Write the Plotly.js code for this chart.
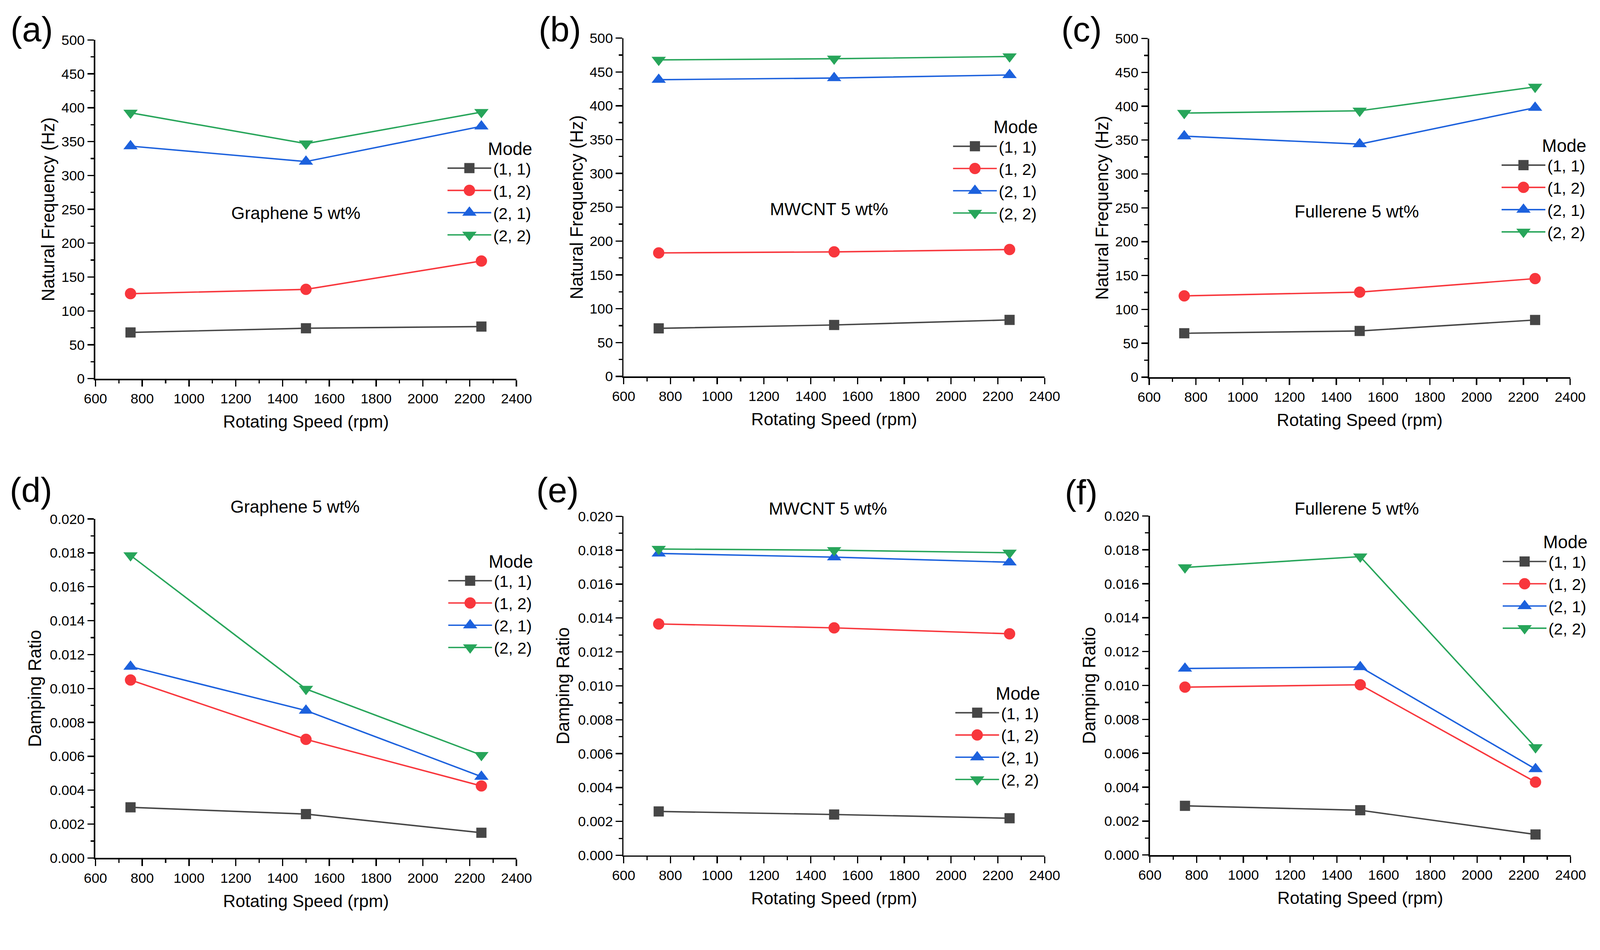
<!DOCTYPE html>
<html><head><meta charset="utf-8">
<script src="https://cdn.plot.ly/plotly-3.0.1.min.js"></script>
<style>html,body{margin:0;padding:0;background:#fff;overflow:hidden}</style>
</head><body><div id="chart"></div>
<script>
const W = 4241, H = 2433;
const speed = [750, 1500, 2250];
const modeNames = ['(1, 1)', '(1, 2)', '(2, 1)', '(2, 2)'];
const materials = ['Graphene 5 wt%', 'MWCNT 5 wt%', 'Fullerene 5 wt%'];
const panelLetters = ['(a)', '(b)', '(c)', '(d)', '(e)', '(f)'];
const xTitle = 'Rotating Speed (rpm)';
const yTitleFreq = 'Natural Frequency (Hz)';
const yTitleDamp = 'Damping Ratio';

// Natural frequency (Hz)
const grapheneFreq11 = [68.2, 74.4, 76.9];
const grapheneFreq12 = [125.5, 131.8, 173.7];
const grapheneFreq21 = [343.3, 320.5, 372.5];
const grapheneFreq22 = [392.5, 347.0, 393.5];
const mwcntFreq11 = [71.0, 76.0, 83.5];
const mwcntFreq12 = [182.5, 184.0, 187.5];
const mwcntFreq21 = [438.5, 441.0, 445.5];
const mwcntFreq22 = [467.8, 469.5, 472.8];
const fullereneFreq11 = [64.8, 68.2, 84.4];
const fullereneFreq12 = [120.0, 125.5, 145.5];
const fullereneFreq21 = [355.8, 344.0, 397.8];
const fullereneFreq22 = [389.9, 393.2, 428.5];

// Damping ratio
const grapheneDamp11 = [0.00299, 0.00259, 0.00149];
const grapheneDamp12 = [0.0105, 0.0070, 0.00425];
const grapheneDamp21 = [0.01129, 0.0087, 0.0048];
const grapheneDamp22 = [0.01785, 0.00997, 0.00607];
const mwcntDamp11 = [0.00259, 0.00241, 0.00219];
const mwcntDamp12 = [0.01365, 0.01342, 0.01307];
const mwcntDamp21 = [0.01781, 0.01759, 0.01729];
const mwcntDamp22 = [0.01807, 0.01800, 0.01785];
const fullereneDamp11 = [0.00290, 0.00264, 0.00121];
const fullereneDamp12 = [0.00990, 0.01004, 0.00430];
const fullereneDamp21 = [0.01100, 0.01109, 0.00507];
const fullereneDamp22 = [0.01696, 0.01760, 0.00635];

const panelSeries = [
  [grapheneFreq11, grapheneFreq12, grapheneFreq21, grapheneFreq22],
  [mwcntFreq11, mwcntFreq12, mwcntFreq21, mwcntFreq22],
  [fullereneFreq11, fullereneFreq12, fullereneFreq21, fullereneFreq22],
  [grapheneDamp11, grapheneDamp12, grapheneDamp21, grapheneDamp22],
  [mwcntDamp11, mwcntDamp12, mwcntDamp21, mwcntDamp22],
  [fullereneDamp11, fullereneDamp12, fullereneDamp21, fullereneDamp22]
];

// styles
const colors = ['#464646', '#f8363c', '#1c61dd', '#27a55a'];
const symbols = ['square', 'circle', 'triangle-up', 'triangle-down'];
const sizes = [27, 30, 33, 33];
const FONT = 'Liberation Sans, Arial, sans-serif';

// scale to the actual viewport (design is in 4241 x 2433 px)
const vw = window.innerWidth || W, vh = window.innerHeight || H;
const s = Math.min(vw / W, vh / H);
const px = v => v * s;

// plot boxes in pixels: left, right, top, bottom
const boxes = [
  [253, 1369, 106, 1004],
  [1653, 2769, 101, 998],
  [3046, 4162, 102, 1000],
  [253, 1369, 1376, 2275],
  [1653, 2769, 1369, 2268],
  [3048, 4163, 1368, 2267]
];
// legend: line start x, title top y
const legendPos = [
  [1186, 350], [2526, 292], [3980, 342],
  [1188, 1444], [2532, 1794], [3983, 1393]
];
// material annotation centres
const matPos = [
  [784, 565], [2198, 554], [3596, 561],
  [782, 1343], [2195, 1349], [3596, 1348]
];
const letterPos = [
  [84, 78], [1484, 78], [2867, 78],
  [82, 1300], [1478, 1300], [2866, 1306]
];

const data = [];
const layout = {
  width: px(W), height: px(H),
  margin: {l: 0, r: 0, t: 0, b: 0},
  paper_bgcolor: '#ffffff', plot_bgcolor: 'rgba(0,0,0,0)',
  font: {family: FONT, color: '#000000', size: px(37)},
  showlegend: true,
  annotations: []
};

for (let p = 0; p < 6; p++) {
  const n = p === 0 ? '' : String(p + 1);
  const b = boxes[p];
  const isDamp = p >= 3;
  const legName = 'legend' + n;
  panelSeries[p].forEach((ys, i) => {
    data.push({
      type: 'scatter', mode: 'lines+markers',
      x: speed, y: ys, name: modeNames[i],
      xaxis: 'x' + n, yaxis: 'y' + n, legend: legName,
      line: {color: colors[i], width: px(3.8)},
      marker: {symbol: symbols[i], size: px(sizes[i]), color: colors[i], line: {width: 0}},
      cliponaxis: false
    });
  });
  const axCommon = {
    showgrid: false, zeroline: false, showline: true,
    linecolor: '#000000', linewidth: px(4),
    ticks: 'outside', ticklen: px(17), tickwidth: px(3.5), tickcolor: '#000000',
    tickfont: {family: FONT, size: px(37), color: '#000000'},
    mirror: false
  };
  layout['xaxis' + n] = Object.assign({}, axCommon, {
    domain: [b[0] / W, b[1] / W], anchor: 'y' + n,
    range: [600, 2400], dtick: 200, tick0: 600,
    minor: {dtick: 100, ticklen: px(9), tickwidth: px(3.5), tickcolor: '#000000', ticks: 'outside'},
    title: {text: xTitle, font: {family: FONT, size: px(46), color: '#000000'}, standoff: px(26)}
  });
  layout['yaxis' + n] = Object.assign({}, axCommon, {
    domain: [1 - b[3] / H, 1 - b[2] / H], anchor: 'x' + n,
    range: isDamp ? [0, 0.02] : [0, 500],
    dtick: isDamp ? 0.002 : 50, tick0: 0,
    tickformat: isDamp ? '.3f' : 'd',
    minor: {dtick: isDamp ? 0.001 : 25, ticklen: px(9), tickwidth: px(3.5), tickcolor: '#000000', ticks: 'outside'},
    title: {text: isDamp ? yTitleDamp : yTitleFreq, font: {family: FONT, size: px(47), color: '#000000'}, standoff: px(isDamp ? 9 : 4)}
  });
  layout[legName] = {
    x: (legendPos[p][0] - 5) / W, xanchor: 'left',
    y: 1 - legendPos[p][1] / H, yanchor: 'top',
    bgcolor: 'rgba(0,0,0,0)', borderwidth: 0,
    itemwidth: px(116),
    font: {family: FONT, size: px(43), color: '#000000'},
    title: {text: 'Mode', side: 'top right', font: {family: FONT, size: px(47), color: '#000000'}},
    tracegroupgap: 0
  };
  layout.annotations.push({
    text: materials[p % 3], xref: 'paper', yref: 'paper',
    x: matPos[p][0] / W, y: 1 - matPos[p][1] / H,
    xanchor: 'center', yanchor: 'middle', showarrow: false,
    font: {family: FONT, size: px(46), color: '#000000'}
  });
  layout.annotations.push({
    text: panelLetters[p], xref: 'paper', yref: 'paper',
    x: letterPos[p][0] / W, y: 1 - letterPos[p][1] / H,
    xanchor: 'center', yanchor: 'middle', showarrow: false,
    font: {family: FONT, size: px(92), color: '#000000'}
  });
}

Plotly.newPlot('chart', data, layout, {staticPlot: true, displayModeBar: false}).then(gd => {
  // Plotly caps legend marker size at 16 px; enlarge the legend symbols to match the plotted markers
  const pts = gd.querySelectorAll('g.legendpoints path.scatterpts');
  pts.forEach((el, idx) => {
    const d = el.__data__;
    const tr = d && d[0] && d[0].trace;
    const sz = tr && tr.marker ? tr.marker.size : px(sizes[idx % 4]);
    const drawn = Math.min(sz, 16);
    const k = sz / drawn;
    const t = el.getAttribute('transform') || '';
    el.setAttribute('transform', t + ' scale(' + k + ')');
  });
});
</script>
</body></html>
